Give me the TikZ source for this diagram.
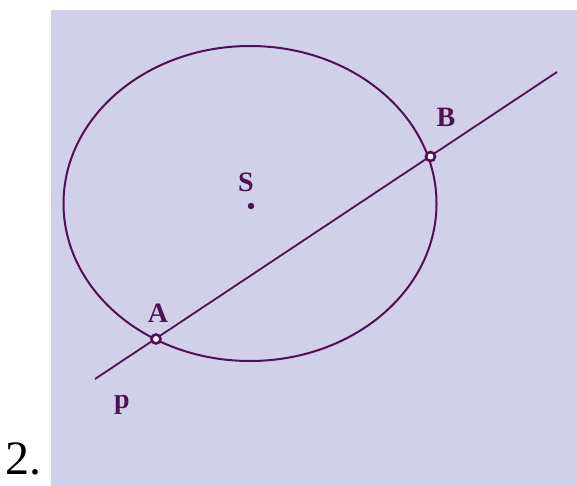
\documentclass[tikz,border=0pt]{standalone}
\usepackage{fontspec}
\setmainfont{Liberation Serif}
\definecolor{bgc}{RGB}{208,208,232}
\definecolor{ink}{RGB}{80,16,84}
\begin{document}
\begin{tikzpicture}[x=1pt,y=-1pt,
  pt/.style={circle,draw=ink,fill=white,line width=2.6pt,inner sep=0pt,minimum size=9pt},
  lbl/.style={text=ink,font=\fontsize{28}{28}\selectfont\bfseries,inner sep=0pt},
  ln/.style={draw=ink,line width=1.8pt}]
\useasboundingbox (0,0) rectangle (577,486);
\fill[bgc] (51,10) rectangle (577,486);
\draw[ln,line width=2pt] (250,203.5) ellipse [x radius=186.5,y radius=157.5];
\coordinate (P1) at (95,379);
\coordinate (P2) at (557,72);
\draw[ln] (P1) -- (P2);
\node[circle,fill=ink,inner sep=0pt,minimum size=6.5pt] (S) at (251,206) {};
\node[lbl] (Sl) at (246,182) {S};
\node[pt] (A) at (156,339) {};
\node[lbl] (Al) at (158,313) {A};
\node[pt] (B) at (430.5,156.5) {};
\node[lbl] (Bl) at (446,117) {B};
\node[lbl,anchor=base] (p) at (122,408) {p};
\node[anchor=base west,inner sep=0pt,font=\fontsize{48}{48}\selectfont] (n) at (5,474) {2.};
\end{tikzpicture}
\end{document}
